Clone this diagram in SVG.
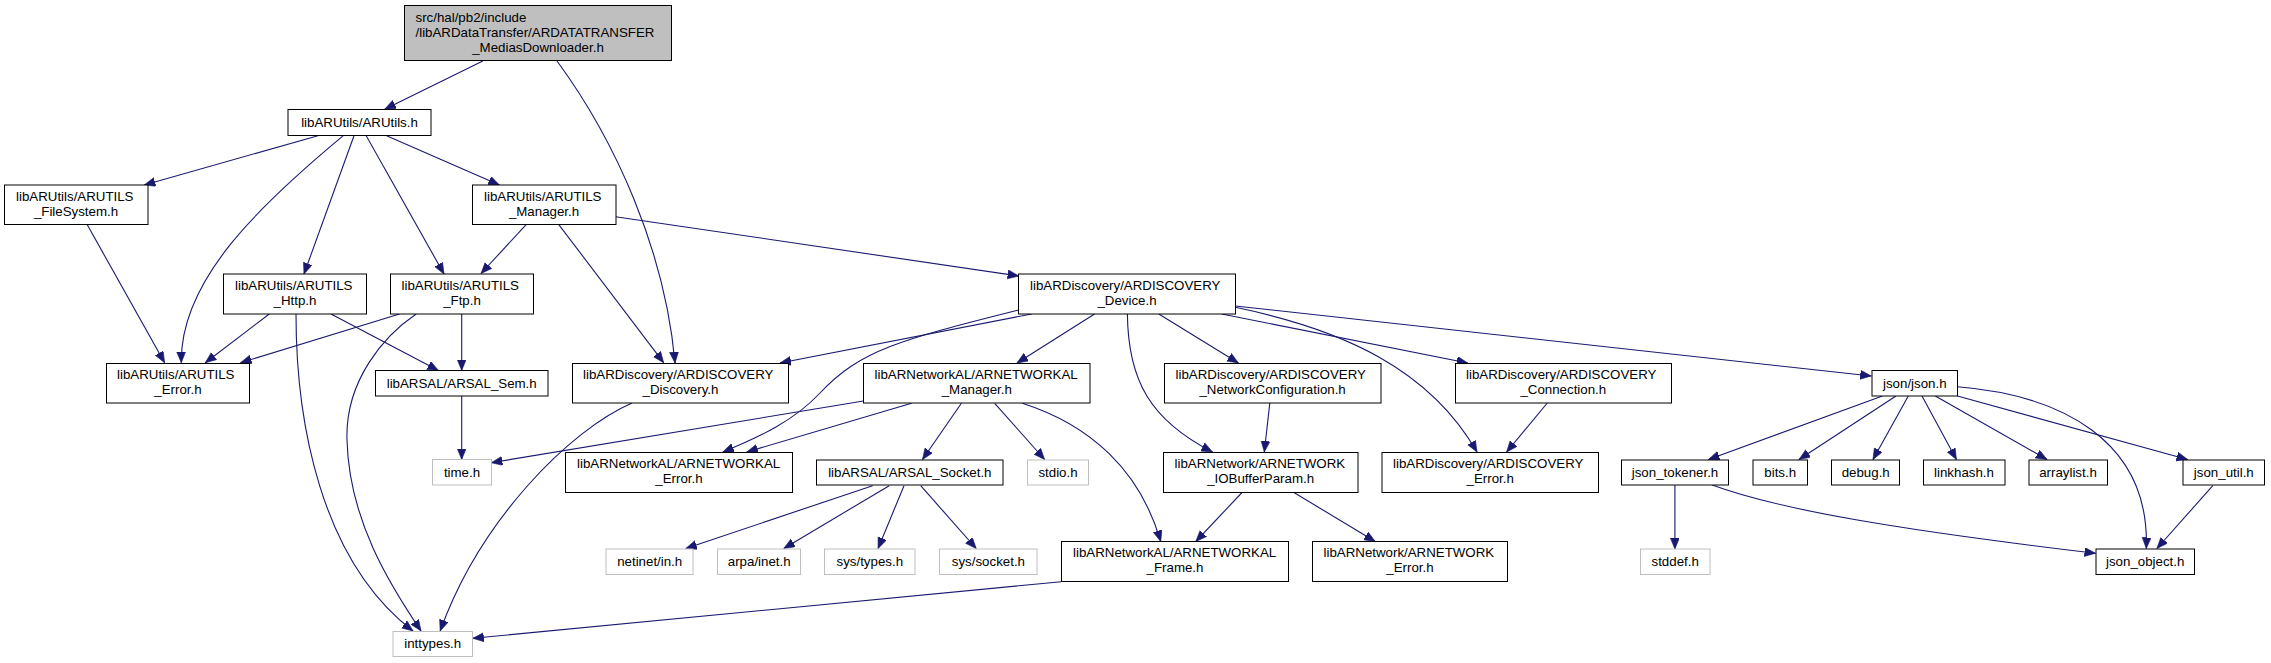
<svg xmlns="http://www.w3.org/2000/svg" width="2271" height="663" viewBox="0 0 2271 663">
<style>
  .n rect{fill:#fff;stroke:#000;stroke-width:1}
  .g rect{fill:#fff;stroke:#bfbfbf;stroke-width:1}
  #top rect{fill:#bfbfbf}
  text{font-family:"Liberation Sans",Arial,Helvetica,sans-serif;font-size:13.3px;fill:#000}
  .m{text-anchor:middle}
  #edges path{fill:none;stroke:#191970;stroke-width:1.1;marker-end:url(#arr)}
</style>
<defs>
  <marker id="arr" markerWidth="12" markerHeight="10" refX="11" refY="4.5" orient="auto" markerUnits="userSpaceOnUse">
    <path d="M0,0L11,4.5L0,9z" fill="#191970" stroke="#191970" stroke-width="0.6"/>
  </marker>
</defs>
<rect width="2271" height="663" fill="#fff"/>

<g id="edges">
  <path d="M482.8,61L384.7,109.3"/>
  <path d="M557,61C615,140 665,250 675,363"/>
  <path d="M318,135.7L144.3,185"/>
  <path d="M343.3,135.7C260,205 180,280 181.3,362.7"/>
  <path d="M354,135.7L304,274"/>
  <path d="M366.2,135.7L444,274"/>
  <path d="M386.6,135.7L499.4,185"/>
  <path d="M87,224.3L164.6,362.7"/>
  <path d="M526.4,224.3L481,273.5"/>
  <path d="M558.6,224.3L663.6,362.7"/>
  <path d="M615.5,216.7L1018.7,276"/>
  <path d="M269.3,314L205.3,362.7"/>
  <path d="M296,314C296,420 320,560 413,631"/>
  <path d="M331,314L438.4,370.5"/>
  <path d="M399.5,314L240.5,362.7"/>
  <path d="M416.2,314C385,335 345,380 347,440C349,520 390,585 421,631"/>
  <path d="M461.7,314L461.7,370.5"/>
  <path d="M461.7,396L461.7,459.5"/>
  <path d="M632,403C570,430 480,520 440.2,631"/>
  <path d="M1061.3,581.7L472.8,638.3"/>
  <path d="M1031.7,314L780,363"/>
  <path d="M1018.7,310C900,340 860,350 820,393C795,420 760,437 722.8,452"/>
  <path d="M1094.6,314L1017,363"/>
  <path d="M1127.4,314C1128,380 1150,420 1212.5,452"/>
  <path d="M1158.8,314L1238.4,363"/>
  <path d="M1235.4,307.3C1345,330 1430,370 1477,452"/>
  <path d="M1221.7,314L1467.7,363"/>
  <path d="M1235.4,306L1871.3,376"/>
  <path d="M863.4,401L491.3,462.7"/>
  <path d="M911.5,403.3L746.8,452"/>
  <path d="M961.4,403.3L922.5,459.5"/>
  <path d="M994.7,403.3L1044.6,459.5"/>
  <path d="M1022.4,403.3C1090,425 1140,470 1160.7,541.5"/>
  <path d="M872.6,485.7L685.8,548.5"/>
  <path d="M889.2,485.7L783.8,548.5"/>
  <path d="M904,485.7L878.1,548.5"/>
  <path d="M920.7,485.7L976.2,548.5"/>
  <path d="M1269.8,403L1264.3,452"/>
  <path d="M1547.3,403L1506.6,452"/>
  <path d="M1242,492.5L1195.8,541.5"/>
  <path d="M1293.9,492.5L1375.2,541.5"/>
  <path d="M1674.9,485L1674.9,549"/>
  <path d="M1712.2,485C1780,510 1900,530 2095.5,553.3"/>
  <path d="M1882.4,396L1708.5,459.5"/>
  <path d="M1896,396L1799,459.5"/>
  <path d="M1908.3,396L1873,459.5"/>
  <path d="M1922,396L1956.4,459.5"/>
  <path d="M1935.3,396L2047,459.5"/>
  <path d="M1957.5,396L2187.6,459.5"/>
  <path d="M1957.5,386.7C2060,395 2150,440 2146.3,548.5"/>
  <path d="M2212.8,485.7L2156.9,548.5"/>
</g>

<g id="top" class="n"><rect x="404.5" y="5.5" width="267" height="55"/>
  <text x="415.5" y="22">src/hal/pb2/include</text>
  <text x="415.5" y="37">/libARDataTransfer/ARDATATRANSFER</text>
  <text x="538" y="51.5" class="m">_MediasDownloader.h</text></g>
<g id="arutils" class="n"><rect x="288" y="109.5" width="143" height="26"/>
  <text x="359.5" y="127" class="m">libARUtils/ARUtils.h</text></g>
<g id="arutils_filesystem" class="n"><rect x="4.5" y="185" width="143.5" height="39.5"/>
  <text x="16" y="200.8">libARUtils/ARUTILS</text>
  <text x="76" y="215.5" class="m">_FileSystem.h</text></g>
<g id="arutils_manager" class="n"><rect x="472.5" y="185" width="143.5" height="39.5"/>
  <text x="484" y="200.8">libARUtils/ARUTILS</text>
  <text x="544" y="215.5" class="m">_Manager.h</text></g>
<g id="arutils_http" class="n"><rect x="223.5" y="274" width="143" height="40"/>
  <text x="235" y="289.8">libARUtils/ARUTILS</text>
  <text x="295" y="304.5" class="m">_Http.h</text></g>
<g id="arutils_ftp" class="n"><rect x="390.5" y="274" width="143" height="40"/>
  <text x="401.5" y="289.8">libARUtils/ARUTILS</text>
  <text x="462" y="304.5" class="m">_Ftp.h</text></g>
<g id="ardiscovery_device" class="n"><rect x="1018.5" y="274" width="217" height="40"/>
  <text x="1030" y="289.8">libARDiscovery/ARDISCOVERY</text>
  <text x="1127" y="304.5" class="m">_Device.h</text></g>
<g id="arutils_error" class="n"><rect x="106.5" y="363.5" width="143" height="39.5"/>
  <text x="117" y="379.3">libARUtils/ARUTILS</text>
  <text x="178" y="394" class="m">_Error.h</text></g>
<g id="arsal_sem" class="n"><rect x="375.5" y="370.5" width="172.5" height="25.5"/>
  <text x="461.7" y="388" class="m">libARSAL/ARSAL_Sem.h</text></g>
<g id="ardiscovery_discovery" class="n"><rect x="572.5" y="363.5" width="216" height="39.5"/>
  <text x="583" y="379.3">libARDiscovery/ARDISCOVERY</text>
  <text x="680.5" y="394" class="m">_Discovery.h</text></g>
<g id="arnetworkal_manager" class="n"><rect x="863.5" y="363.5" width="226.5" height="39.5"/>
  <text x="874.5" y="379.3">libARNetworkAL/ARNETWORKAL</text>
  <text x="976.8" y="394" class="m">_Manager.h</text></g>
<g id="ardiscovery_netconf" class="n"><rect x="1164.5" y="363.5" width="216.5" height="39.5"/>
  <text x="1175.5" y="379.3">libARDiscovery/ARDISCOVERY</text>
  <text x="1272.6" y="394" class="m">_NetworkConfiguration.h</text></g>
<g id="ardiscovery_connection" class="n"><rect x="1455.5" y="363.5" width="216" height="39.5"/>
  <text x="1466" y="379.3">libARDiscovery/ARDISCOVERY</text>
  <text x="1563.3" y="394" class="m">_Connection.h</text></g>
<g id="json_json" class="n"><rect x="1872" y="370.5" width="85.5" height="25.5"/>
  <text x="1914.8" y="388" class="m">json/json.h</text></g>
<g id="time_h" class="g"><rect x="432.5" y="459.5" width="59" height="25.5"/>
  <text x="462" y="477" class="m">time.h</text></g>
<g id="arnetworkal_error" class="n"><rect x="565.5" y="452.5" width="227" height="40"/>
  <text x="577" y="468.3">libARNetworkAL/ARNETWORKAL</text>
  <text x="679" y="483" class="m">_Error.h</text></g>
<g id="arsal_socket" class="n"><rect x="816.5" y="460" width="186.5" height="25"/>
  <text x="909.8" y="477" class="m">libARSAL/ARSAL_Socket.h</text></g>
<g id="stdio_h" class="g"><rect x="1027.5" y="460" width="61" height="25"/>
  <text x="1058" y="477" class="m">stdio.h</text></g>
<g id="arnetwork_iobufferparam" class="n"><rect x="1163.5" y="452.5" width="194.5" height="40"/>
  <text x="1174.5" y="468.3">libARNetwork/ARNETWORK</text>
  <text x="1260.6" y="483" class="m">_IOBufferParam.h</text></g>
<g id="ardiscovery_error" class="n"><rect x="1382" y="452.5" width="216.5" height="40"/>
  <text x="1393" y="468.3">libARDiscovery/ARDISCOVERY</text>
  <text x="1490.2" y="483" class="m">_Error.h</text></g>
<g id="json_tokener" class="n"><rect x="1621.5" y="460" width="107" height="25"/>
  <text x="1675" y="477" class="m">json_tokener.h</text></g>
<g id="bits_h" class="n"><rect x="1753" y="460" width="54.5" height="25"/>
  <text x="1780.2" y="477" class="m">bits.h</text></g>
<g id="debug_h" class="n"><rect x="1831.5" y="460" width="68" height="25"/>
  <text x="1865.7" y="477" class="m">debug.h</text></g>
<g id="linkhash_h" class="n"><rect x="1923.5" y="460" width="81.5" height="25"/>
  <text x="1964" y="477" class="m">linkhash.h</text></g>
<g id="arraylist_h" class="n"><rect x="2029" y="460" width="78.5" height="25"/>
  <text x="2068" y="477" class="m">arraylist.h</text></g>
<g id="json_util" class="n"><rect x="2183" y="460" width="81.5" height="25"/>
  <text x="2223.8" y="477" class="m">json_util.h</text></g>
<g id="netinet_in" class="g"><rect x="606" y="549" width="87" height="25.5"/>
  <text x="649.7" y="566" class="m">netinet/in.h</text></g>
<g id="arpa_inet" class="g"><rect x="717.5" y="549" width="83" height="25.5"/>
  <text x="759.2" y="566" class="m">arpa/inet.h</text></g>
<g id="sys_types" class="g"><rect x="824.5" y="549" width="90.5" height="25.5"/>
  <text x="869.8" y="566" class="m">sys/types.h</text></g>
<g id="sys_socket" class="g"><rect x="939.5" y="549" width="97.5" height="25.5"/>
  <text x="988.4" y="566" class="m">sys/socket.h</text></g>
<g id="arnetworkal_frame" class="n"><rect x="1061.5" y="541.5" width="227" height="40"/>
  <text x="1073" y="557.3">libARNetworkAL/ARNETWORKAL</text>
  <text x="1175" y="572" class="m">_Frame.h</text></g>
<g id="arnetwork_error" class="n"><rect x="1312.5" y="541.5" width="195" height="40"/>
  <text x="1323.5" y="557.3">libARNetwork/ARNETWORK</text>
  <text x="1410" y="572" class="m">_Error.h</text></g>
<g id="stddef_h" class="g"><rect x="1640.5" y="549" width="69.5" height="25.5"/>
  <text x="1675.2" y="566" class="m">stddef.h</text></g>
<g id="json_object" class="n"><rect x="2096" y="549" width="98.5" height="25.5"/>
  <text x="2145.2" y="566" class="m">json_object.h</text></g>
<g id="inttypes_h" class="g"><rect x="393" y="631.5" width="79.5" height="25"/>
  <text x="432.7" y="648" class="m">inttypes.h</text></g>
</svg>
